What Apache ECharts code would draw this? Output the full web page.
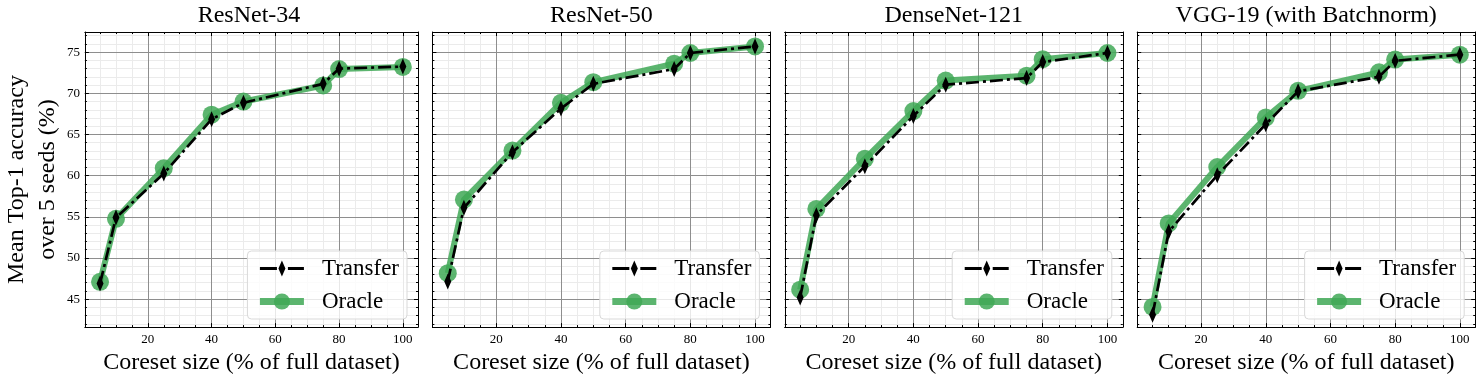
<!DOCTYPE html>
<html>
<head>
<meta charset="utf-8">
<script src="https://cdn.jsdelivr.net/npm/echarts@6/dist/echarts.min.js"></script>
<style>
html,body{margin:0;padding:0;background:#fff;}
#chart{width:1480px;height:380px;}
</style>
</head>
<body>
<div id="chart"></div>
<script>
// ---- data ----
const coresetSizes = [5, 10, 25, 40, 50, 75, 80, 100];
const panelTitles = ['ResNet-34', 'ResNet-50', 'DenseNet-121', 'VGG-19 (with Batchnorm)'];
const transferResNet34 = [46.9, 54.9, 60.25, 66.85, 68.85, 71.15, 73.0, 73.25];
const oracleResNet34   = [47.1, 54.75, 60.9, 67.4, 69.0, 70.95, 72.95, 73.2];
const transferResNet50 = [47.15, 56.1, 62.85, 68.15, 71.15, 72.95, 74.9, 75.7];
const oracleResNet50   = [48.15, 57.1, 63.05, 68.85, 71.35, 73.6, 74.9, 75.7];
const transferDenseNet = [45.2, 55.2, 61.15, 67.25, 71.05, 71.85, 73.8, 74.9];
const oracleDenseNet   = [46.15, 55.95, 62.05, 67.85, 71.55, 72.15, 74.15, 74.9];
const transferVGG19    = [43.1, 53.2, 60.05, 66.25, 70.25, 72.0, 73.95, 74.7];
const oracleVGG19      = [44.05, 54.2, 61.05, 67.05, 70.3, 72.55, 74.1, 74.7];
const xTickStep = 20, xMinorStep = 5, yTickStep = 5, yMinorStep = 1;
const seriesNames = ['Transfer', 'Oracle'];
const xLabel = 'Coreset size (% of full dataset)';
const yLabel = 'Mean Top-1 accuracy\nover 5 seeds (%)';

const transferAll = [transferResNet34, transferResNet50, transferDenseNet, transferVGG19];
const oracleAll = [oracleResNet34, oracleResNet50, oracleDenseNet, oracleVGG19];

// ---- layout / style ----
const FONT = 'Liberation Serif';
const X_MIN = 0.25, X_MAX = 104.75, Y_MIN = 41.6, Y_MAX = 77.45;
const GL = [80, 432.4, 784.8, 1137.2], GW = 338, GT = 32, GH = 298;
const GREEN = '#3fa856';
const DIAMOND = 'path://M-16,0Z M16,0Z M0,-16 L7,0 L0,16 L-7,0 Z';

const grids = [], xAxes = [], yAxes = [], series = [], legends = [], graphics = [];

function axisCommon(gi, major, pos, isX, showLabel) {
  const step = isX ? (major ? xTickStep : xMinorStep) : (major ? yTickStep : yMinorStep);
  return {
    type: 'value', gridIndex: gi, position: pos,
    min: isX ? X_MIN : Y_MIN, max: isX ? X_MAX : Y_MAX,
    minInterval: step, maxInterval: step,
    z: major ? 1 : 0,
    axisLine: { show: major, onZero: false, lineStyle: { color: '#000', width: 1 } },
    axisTick: { show: true, inside: true, length: major ? 4 : 2, lineStyle: { color: '#000', width: 1 } },
    axisLabel: { show: !!showLabel, showMinLabel: false, showMaxLabel: false, color: '#000',
                 fontFamily: FONT, fontSize: 13, margin: isX ? 6 : 5 },
    splitLine: { show: (pos === 'bottom' || pos === 'left'),
                 lineStyle: major ? { color: '#8e8e8e', width: 1 } : { color: '#ebebeb', width: 1 } }
  };
}

for (let i = 0; i < 4; i++) {
  grids.push({ left: GL[i], top: GT, width: GW, height: GH });
  const xb = axisCommon(i, true, 'bottom', true, true);
  xb.name = xLabel; xb.nameLocation = 'middle'; xb.nameGap = 21;
  xb.nameTextStyle = { fontFamily: FONT, fontSize: 24, color: '#000' };
  xAxes.push(xb, axisCommon(i, false, 'bottom', true), axisCommon(i, true, 'top', true), axisCommon(i, false, 'top', true));
  const yl = axisCommon(i, true, 'left', false, i === 0);
  if (i === 0) {
    yl.name = yLabel; yl.nameLocation = 'middle'; yl.nameGap = 18; yl.nameRotate = 90;
    yl.nameTextStyle = { fontFamily: FONT, fontSize: 24, lineHeight: 31, color: '#000' };
  }
  yAxes.push(yl, axisCommon(i, false, 'left', false), axisCommon(i, true, 'right', false), axisCommon(i, false, 'right', false));

  series.push({
    name: 'Oracle', type: 'line', xAxisIndex: 4 * i, yAxisIndex: 4 * i, z: 2,
    data: coresetSizes.map((x, k) => [x, oracleAll[i][k]]),
    symbol: 'circle', symbolSize: 18, showAllSymbol: true,
    lineStyle: { color: GREEN, width: 6, opacity: 0.85 },
    itemStyle: { color: GREEN, opacity: 0.85, borderWidth: 0 },
    silent: true, animation: false
  });
  series.push({
    name: 'Transfer', type: 'line', xAxisIndex: 4 * i, yAxisIndex: 4 * i, z: 3,
    data: coresetSizes.map((x, k) => [x, transferAll[i][k]]),
    symbol: DIAMOND, symbolSize: 16, showAllSymbol: true,
    lineStyle: { color: '#000', width: 2.7, type: [13, 4, 3, 4] },
    itemStyle: { color: '#000', borderWidth: 0 },
    silent: true, animation: false
  });

  legends.push({
    orient: 'vertical', right: 1480 - (GL[i] + GW - 11), bottom: 61,
    data: [
      { name: seriesNames[0], lineStyle: { color: '#000', width: 3, type: [17, 4, 3, 4] } },
      { name: seriesNames[1], lineStyle: { color: GREEN, width: 7, opacity: 0.85 } }
    ],
    itemWidth: 44, itemHeight: 20, itemGap: 10,
    padding: [6, 8, 6, 9], borderColor: '#d9d9d9', borderWidth: 1, borderRadius: 4,
    backgroundColor: 'rgba(255,255,255,0.8)', selectedMode: false, align: 'left',
    textStyle: { fontFamily: FONT, fontSize: 23, color: '#000', padding: [0, 0, 0, 13] }
  });

  graphics.push({
    type: 'text', x: GL[i] + GW / 2, y: 16,
    style: { text: panelTitles[i], fontFamily: FONT, fontSize: 24, fill: '#000',
             align: 'center', verticalAlign: 'middle' }
  });
}

const chart = echarts.init(document.getElementById('chart'), null, { renderer: 'canvas' });
chart.setOption({
  animation: false,
  backgroundColor: '#fff',
  grid: grids, xAxis: xAxes, yAxis: yAxes, series: series, legend: legends,
  graphic: graphics
});
</script>
</body>
</html>
